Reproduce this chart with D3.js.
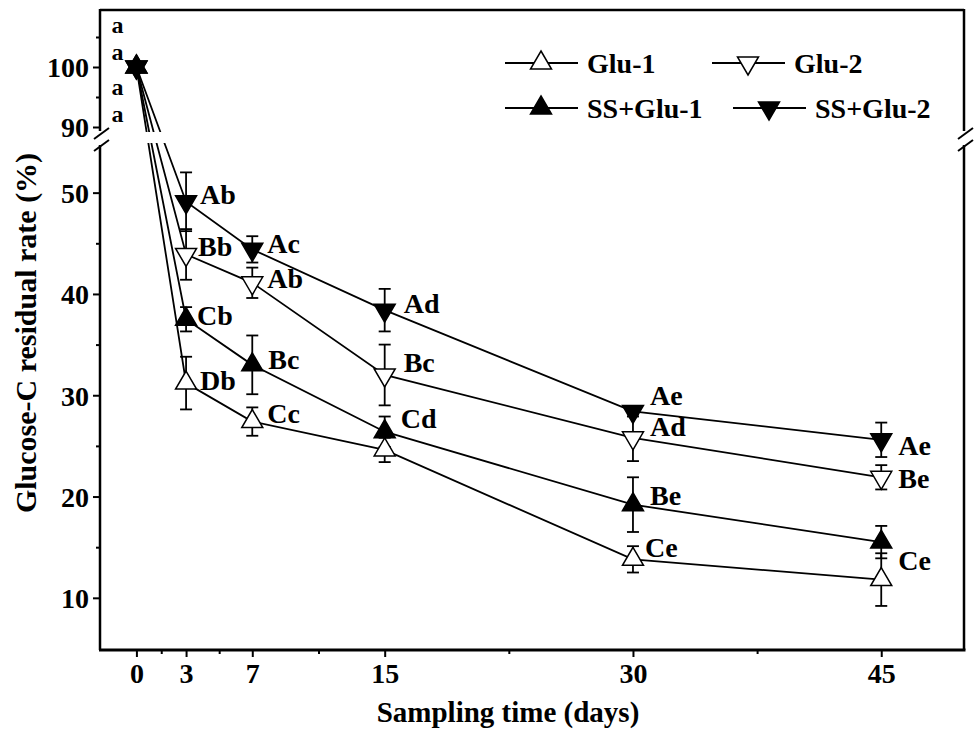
<!DOCTYPE html>
<html>
<head>
<meta charset="utf-8">
<script src="https://cdn.jsdelivr.net/npm/d3@7/dist/d3.min.js"></script>
<style>
  html, body { margin: 0; padding: 0; background: #fff; }
  svg text { font-family: "Liberation Serif", "Times New Roman", serif; font-weight: bold; fill: #000; }
</style>
</head>
<body>
<svg id="chart" width="976" height="730"></svg>
<script>
// Sampling days and glucose-C residual rate (%) per treatment
const days = [0, 3, 7, 15, 30, 45];
const seriesNames = ["Glu-1", "Glu-2", "SS+Glu-1", "SS+Glu-2"];

const glu1     = [100, 31.2, 27.4, 24.6, 13.8, 11.8];
const glu1Err  = [0, 2.6, 1.4, 1.2, 1.3, 2.6];
const glu2     = [100, 43.9, 41.1, 32.0, 25.8, 21.9];
const glu2Err  = [0, 2.5, 1.5, 3.0, 2.3, 1.2];
const ssGlu1   = [100, 37.5, 33.0, 26.4, 19.2, 15.5];
const ssGlu1Err = [0, 1.2, 2.9, 1.5, 2.7, 1.6];
const ssGlu2   = [100, 49.1, 44.4, 38.4, 28.4, 25.6];
const ssGlu2Err = [0, 2.9, 1.3, 2.1, 0.5, 1.7];

// Significance letters for each point
const glu1Labels   = ["a", "Db", "Cc", "", "Ce", "Ce"];
const glu2Labels   = ["a", "Bb", "Ab", "Bc", "Ad", "Be"];
const ssGlu1Labels = ["a", "Cb", "Bc", "Cd", "Be", ""];
const ssGlu2Labels = ["a", "Ab", "Ac", "Ad", "Ae", "Ae"];

// Tick values
const xTicks = [0, 3, 7, 15, 30, 45];
const xMinorTicks = [1.5, 5, 11, 22.5, 37.5];
const yUpperTicks = [90, 100];
const yUpperMinor = [95, 105];
const yLowerTicks = [10, 20, 30, 40, 50];
const yLowerMinor = [15, 25, 35, 45];

// ---- layout ----
const svg = d3.select("#chart");
const plotLeft = 100, plotRight = 964, plotTop = 10, plotBottom = 650;
const breakTop = 131, breakBottom = 145;

const x = d3.scaleLinear().domain([-2.2, 50]).range([plotLeft, plotRight]);
const yUp = d3.scaleLinear().domain([89.5, 109.5]).range([130, plotTop]);
const yLow = d3.scaleLinear().domain([4.85, 55]).range([plotBottom, 142]);
const y = v => (v >= 70 ? yUp(v) : yLow(v));

// label offsets (dx, dy in px from the marker centre), same order as the label arrays
const labelOffsets = {
  "Glu-1":    [[-25, 55], [14, 7], [15, 1], null, [12, -2], [17, -10]],
  "Glu-2":    [[-25, -7], [12, 2], [15, 5], [19, -3], [17, -2], [17, 11]],
  "SS+Glu-1": [[-25, 28], [11, 6], [16, 4], [16, -4], [17, 0], null],
  "SS+Glu-2": [[-25, -34], [14, 2], [15, 4], [19, 3], [17, -6], [17, 15]]
};

const series = [
  { name: "Glu-1", values: glu1, errs: glu1Err, labels: glu1Labels, shape: "up", fill: "#fff" },
  { name: "Glu-2", values: glu2, errs: glu2Err, labels: glu2Labels, shape: "down", fill: "#fff" },
  { name: "SS+Glu-1", values: ssGlu1, errs: ssGlu1Err, labels: ssGlu1Labels, shape: "up", fill: "#000" },
  { name: "SS+Glu-2", values: ssGlu2, errs: ssGlu2Err, labels: ssGlu2Labels, shape: "down", fill: "#000" }
].map(s => ({ ...s, points: days.map((d, i) => ({ day: d, value: s.values[i], err: s.errs[i], label: s.labels[i], off: labelOffsets[s.name][i] })) }));

// triangle markers centred on their centroid
const S = 21, H = 18;
function triPath(shape) {
  if (shape === "up") return `M0,${-2 * H / 3}L${S / 2},${H / 3}L${-S / 2},${H / 3}Z`;
  return `M0,${2 * H / 3}L${S / 2},${-H / 3}L${-S / 2},${-H / 3}Z`;
}

// mask hiding the axis-break band
const defs = svg.append("defs");
const mask = defs.append("mask").attr("id", "breakMask");
mask.append("rect").attr("x", 0).attr("y", 0).attr("width", 976).attr("height", 730).attr("fill", "#fff");
mask.append("rect").attr("x", 0).attr("y", 132).attr("width", 976).attr("height", 11).attr("fill", "#000");

// ---- axes ----
const gx = svg.append("g").attr("transform", `translate(0,${plotBottom})`);
gx.call(d3.axisBottom(x).tickValues(xTicks).tickSize(7).tickFormat(d3.format("d")));
gx.append("g").call(d3.axisBottom(x).tickValues(xMinorTicks).tickSize(4).tickFormat(""));
gx.selectAll(".domain").remove();
gx.selectAll("line").attr("stroke", "#000").attr("stroke-width", 2);
gx.selectAll("text").attr("font-size", 28).attr("y", 13).attr("dy", "0.71em");

function yAxis(scale, major, minor) {
  const g = svg.append("g").attr("transform", `translate(${plotLeft},0)`);
  g.call(d3.axisLeft(scale).tickValues(major).tickSize(7).tickFormat(d3.format("d")));
  g.append("g").call(d3.axisLeft(scale).tickValues(minor).tickSize(4).tickFormat(""));
  g.selectAll(".domain").remove();
  g.selectAll("line").attr("stroke", "#000").attr("stroke-width", 2);
  g.selectAll("text").attr("font-size", 28).attr("x", -11).attr("dy", "0.35em");
}
yAxis(yUp, yUpperTicks, yUpperMinor);
yAxis(yLow, yLowerTicks, yLowerMinor);

// frame with broken vertical sides
const frame = svg.append("g").attr("stroke", "#000").attr("fill", "none");
frame.append("line").attr("x1", plotLeft).attr("x2", plotRight).attr("y1", plotTop).attr("y2", plotTop).attr("stroke-width", 2.5);
frame.append("line").attr("x1", plotLeft - 1).attr("x2", plotRight + 1.5).attr("y1", plotBottom).attr("y2", plotBottom).attr("stroke-width", 3);
[plotLeft, plotRight].forEach(xx => {
  frame.append("line").attr("x1", xx).attr("x2", xx).attr("y1", plotTop - 1).attr("y2", breakTop).attr("stroke-width", 2.5);
  frame.append("line").attr("x1", xx).attr("x2", xx).attr("y1", breakBottom).attr("y2", plotBottom).attr("stroke-width", 2.5);
  frame.append("line").attr("x1", xx - 6).attr("x2", xx + 9).attr("y1", 139).attr("y2", 128).attr("stroke-width", 2);
  frame.append("line").attr("x1", xx - 6).attr("x2", xx + 9).attr("y1", 151).attr("y2", 140).attr("stroke-width", 2);
});

// ---- series ----
const plot = svg.append("g");
const line = d3.line().x(d => x(d.day)).y(d => y(d.value));

plot.append("g").attr("mask", "url(#breakMask)")
  .selectAll("path").data(series).join("path")
  .attr("d", s => line(s.points))
  .attr("fill", "none").attr("stroke", "#000").attr("stroke-width", 1.8);

// error bars
const eb = plot.append("g").attr("stroke", "#000").attr("stroke-width", 1.8);
series.forEach(s => {
  s.points.filter(p => p.err > 0).forEach(p => {
    const cx = x(p.day), y1 = y(p.value + p.err), y2 = y(p.value - p.err);
    eb.append("line").attr("x1", cx).attr("x2", cx).attr("y1", y1).attr("y2", y2);
    eb.append("line").attr("x1", cx - 6).attr("x2", cx + 6).attr("y1", y1).attr("y2", y1);
    eb.append("line").attr("x1", cx - 6).attr("x2", cx + 6).attr("y1", y2).attr("y2", y2);
  });
});

// markers
series.forEach(s => {
  plot.append("g").selectAll("path").data(s.points).join("path")
    .attr("transform", p => `translate(${x(p.day)},${y(p.value)})`)
    .attr("d", triPath(s.shape))
    .attr("fill", s.fill).attr("stroke", "#000").attr("stroke-width", 1.5);
});

// significance letters
series.forEach(s => {
  plot.append("g").selectAll("text").data(s.points.filter(p => p.label && p.off)).join("text")
    .attr("x", p => x(p.day) + p.off[0])
    .attr("y", p => y(p.value) + p.off[1])
    .attr("font-size", p => (p.day === 0 ? 24 : 28))
    .text(p => p.label);
});

// ---- legend ----
const legendPos = {
  "Glu-1": [505, 63], "Glu-2": [712, 63],
  "SS+Glu-1": [505, 108], "SS+Glu-2": [733, 108]
};
const legend = svg.append("g");
series.forEach(s => {
  const [lx, ly] = legendPos[s.name];
  const g = legend.append("g").attr("transform", `translate(${lx},${ly})`);
  g.append("line").attr("x1", 0).attr("x2", 73).attr("y1", 0).attr("y2", 0).attr("stroke", "#000").attr("stroke-width", 1.8);
  g.append("path").attr("transform", "translate(36,0)").attr("d", triPath(s.shape))
    .attr("fill", s.fill).attr("stroke", "#000").attr("stroke-width", 1.5);
  g.append("text").attr("x", 82).attr("y", 0).attr("dy", "0.35em").attr("font-size", 28).text(s.name);
});

// ---- axis titles ----
svg.append("text").attr("x", 508).attr("y", 722).attr("text-anchor", "middle")
  .attr("font-size", 29).text("Sampling time (days)");
svg.append("text").attr("transform", "translate(36,333) rotate(-90)").attr("text-anchor", "middle")
  .attr("font-size", 30).text("Glucose-C residual rate (%)");
</script>
</body>
</html>
